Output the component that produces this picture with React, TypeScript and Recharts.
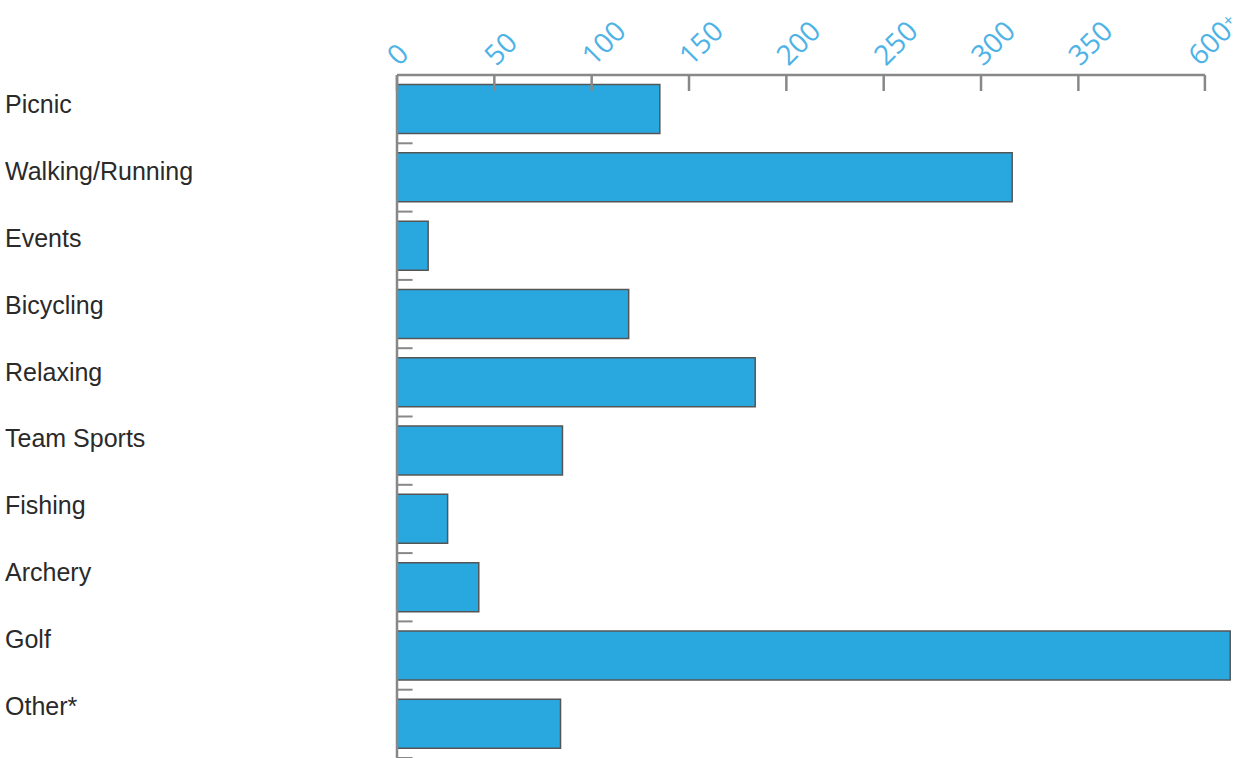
import React from 'react';
import { BarChart, Bar, XAxis, YAxis, ReferenceLine } from 'recharts';

// activities and their counts (Golf is off the scale, "600+")
const categories = ['Picnic', 'Walking/Running', 'Events', 'Bicycling', 'Relaxing', 'Team Sports', 'Fishing', 'Archery', 'Golf', 'Other*'];
const counts = [135, 316, 16, 119, 184, 85, 26, 42, 650, 84];

const tickValues = [0, 50, 100, 150, 200, 250, 300, 350, 600];
const tickLabels = ['0', '50', '100', '150', '200', '250', '300', '350', '600+'];

// broken axis: linear up to 350, then compressed so 600 sits at 415
const BREAK_FROM = 350;
const BREAK_TO = 600;
const BREAK_POS = 415;
const toAxis = (v: number) =>
  v <= BREAK_FROM ? v : BREAK_FROM + ((v - BREAK_FROM) * (BREAK_POS - BREAK_FROM)) / (BREAK_TO - BREAK_FROM);

const data = categories.map((name, i) => ({ name, value: toAxis(counts[i]) }));

const AXIS_GREY = '#888';
const BAR_BLUE = '#29a8e0';
const TICK_BLUE = '#4db3e6';

const TopTick = (props: any) => {
  const { x, y, index } = props;
  const label = tickLabels[index] ?? '';
  const plus = label.endsWith('+');
  // the last label would run off the right edge, nudge it in a little
  const ax = plus ? x - 5 : x + 2;
  const ay = y - 8;
  return (
    <g>
      <line x1={x} y1={y} x2={x} y2={y + 16} stroke={AXIS_GREY} strokeWidth={2.5} />
      <text
        x={ax}
        y={ay}
        transform={`rotate(-45, ${ax}, ${ay})`}
        textAnchor="start"
        fill={TICK_BLUE}
        fontSize={28}
        fontFamily="'Open Sans', sans-serif"
      >
        {plus ? label.slice(0, -1) : label}
        {plus && <tspan fontSize={17} dy={-7}>+</tspan>}
      </text>
    </g>
  );
};

const LeftTick = (props: any) => {
  const { y, index, payload } = props;
  return (
    <text
      x={5}
      y={y + 4 - 1.44 * index}
      textAnchor="start"
      fill="#2a2a2a"
      fontSize={25}
      fontFamily="'Liberation Sans', Arial, sans-serif"
    >
      {payload.value}
    </text>
  );
};

export default function App() {
  return (
    <div style={{ position: 'absolute', left: 0, top: 0, width: 1244, height: 758, background: '#fff' }}>
      <BarChart
        width={1244}
        height={758}
        data={data}
        layout="vertical"
        margin={{ top: 0, right: 6, bottom: 0, left: 0 }}
        barCategoryGap="14%"
      >
        <XAxis
          type="number"
          orientation="top"
          domain={[0, 432]}
          ticks={tickValues.map(toAxis)}
          interval={0}
          height={75}
          axisLine={false}
          tickLine={false}
          tickSize={0}
          tickMargin={0}
          tick={<TopTick />}
        />
        <YAxis
          type="category"
          dataKey="name"
          width={397}
          axisLine={{ stroke: AXIS_GREY, strokeWidth: 2.5 }}
          tickLine={false}
          tick={<LeftTick />}
          interval={0}
        />
        <ReferenceLine
          segment={[{ x: 0, y: categories[0] }, { x: toAxis(BREAK_TO), y: categories[0] }]}
          position="start"
          stroke={AXIS_GREY}
          strokeWidth={2.5}
        />
        {categories.map((c) => (
          <ReferenceLine
            key={c}
            segment={[{ x: 0, y: c }, { x: 8, y: c }]}
            position="end"
            stroke={AXIS_GREY}
            strokeWidth={2}
          />
        ))}
        <Bar dataKey="value" fill={BAR_BLUE} stroke="#555" strokeWidth={1.5} isAnimationActive={false} />
      </BarChart>
    </div>
  );
}
